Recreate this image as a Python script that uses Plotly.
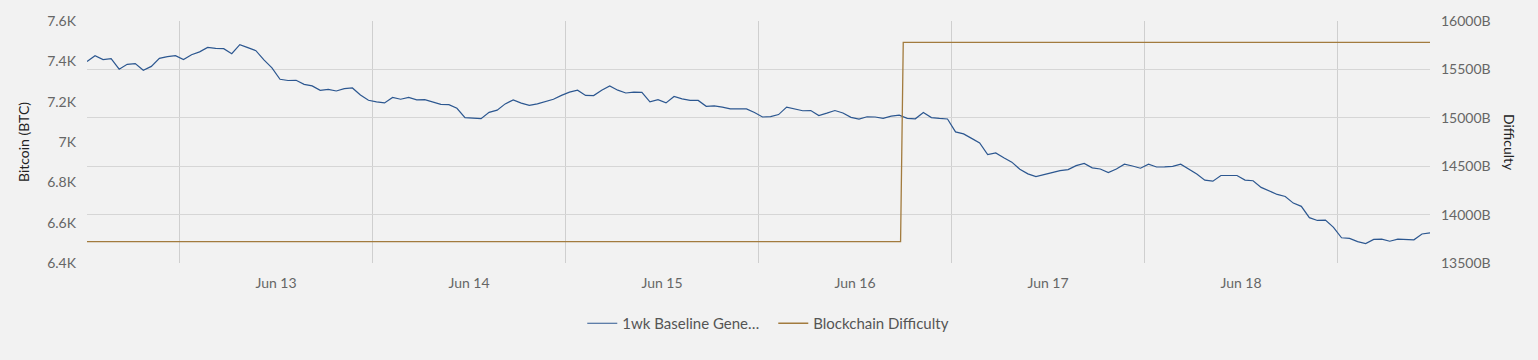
import pandas as pd
import plotly.graph_objects as go

# ---- data ----
price_start = "2018-06-12 12:30"
price_values = [
    7399, 7428, 7409, 7413, 7361, 7385, 7389, 7356, 7375, 7415,
    7423, 7428, 7409, 7433, 7447, 7469, 7464, 7463, 7438, 7483,
    7468, 7453, 7407, 7368, 7311, 7305, 7306, 7286, 7278, 7256,
    7261, 7253, 7265, 7268, 7233, 7207, 7199, 7194, 7221, 7212,
    7221, 7209, 7210, 7200, 7187, 7185, 7167, 7121, 7119, 7116,
    7147, 7158, 7189, 7209, 7193, 7182, 7189, 7201, 7212, 7231,
    7247, 7257, 7231, 7230, 7257, 7278, 7257, 7243, 7247, 7246,
    7199, 7210, 7194, 7226, 7214, 7206, 7206, 7177, 7179, 7173,
    7164, 7164, 7164, 7146, 7124, 7126, 7136, 7173, 7163, 7155,
    7156, 7131, 7143, 7156, 7144, 7122, 7114, 7125, 7124, 7117,
    7128, 7133, 7117, 7115, 7146, 7121, 7117, 7114, 7050, 7040,
    7018, 6995, 6937, 6946, 6922, 6900, 6865, 6842, 6828, 6837,
    6849, 6858, 6863, 6883, 6894, 6872, 6866, 6848, 6866, 6890,
    6881, 6870, 6890, 6876, 6877, 6879, 6890, 6866, 6841, 6811,
    6806, 6834, 6834, 6834, 6811, 6808, 6775, 6758, 6740, 6730,
    6697, 6681, 6625, 6611, 6613, 6577, 6525, 6522, 6506, 6496,
    6517, 6518, 6508, 6518, 6516, 6515, 6544, 6549,
]
price_times = pd.date_range(price_start, periods=len(price_values), freq="h")

diff_times = ["2018-06-12 12:30", "2018-06-16 17:40", "2018-06-16 18:00", "2018-06-19 11:30"]
diff_values = [13721, 13721, 15779, 15779]  # in billions

series_names = ["1wk Baseline Gene\u2026", "Blockchain Difficulty"]
left_tickvals = [6400, 6600, 6800, 7000, 7200, 7400, 7600]
left_ticktext = ["6.4K", "6.6K", "6.8K", "7K", "7.2K", "7.4K", "7.6K"]
right_tickvals = [13500, 14000, 14500, 15000, 15500, 16000]
right_ticktext = ["13500B", "14000B", "14500B", "15000B", "15500B", "16000B"]

# ---- figure ----
BLUE = "#2c5790"
BROWN = "#a27b3e"
BG = "#f2f2f2"
FONT = "Source Sans Pro, Lato, Noto Sans, sans-serif"

fig = go.Figure()
fig.add_trace(go.Scatter(x=price_times, y=price_values, mode="lines",
                         name=series_names[0], line=dict(color=BLUE, width=1.2),
                         yaxis="y"))
fig.add_trace(go.Scatter(x=pd.to_datetime(diff_times), y=diff_values, mode="lines",
                         name=series_names[1], line=dict(color=BROWN, width=1.3),
                         yaxis="y2"))

fig.update_layout(
    width=1538, height=360,
    paper_bgcolor=BG, plot_bgcolor=BG,
    margin=dict(l=87, r=108, t=14, b=97),
    font=dict(family=FONT, size=14, color="#666666"),
    showlegend=True,
    legend=dict(orientation="h", x=0.511, xanchor="center", y=-0.25, yanchor="middle",
                entrywidth=146, entrywidthmode="pixels",
                font=dict(size=15, color="#555555"), bgcolor="rgba(0,0,0,0)"),
    xaxis=dict(
        type="date",
        range=[price_times[0], price_times[-1]],
        dtick=86400000, tick0="2018-06-13",
        tickformat="%b %-d", ticklabelmode="period",
        showgrid=True, gridcolor="#cfcfcf", gridwidth=1,
        zeroline=False, showline=False, ticks="",
        ticklabelstandoff=10,
        tickfont=dict(size=14, color="#666666"),
    ),
    yaxis=dict(
        range=[6400, 7600], tickvals=left_tickvals, ticktext=left_ticktext,
        showgrid=False, zeroline=False, showline=False, ticks="",
        ticklabelstandoff=10,
        title=dict(text="Bitcoin (BTC)", font=dict(size=14, color="#222222"), standoff=14),
        tickfont=dict(size=14, color="#666666"),
    ),
    yaxis2=dict(
        range=[13500, 16000], tickvals=right_tickvals, ticktext=right_ticktext,
        overlaying="y", side="right",
        showgrid=True, gridcolor="#d6d6d6", gridwidth=1,
        zeroline=False, showline=False, ticks="",
        ticklabelstandoff=10,
        tickfont=dict(size=14, color="#666666"),
    ),
    annotations=[dict(text="Difficulty", xref="paper", yref="paper", x=1.0, y=0.5,
                      xanchor="center", yanchor="middle",
                      xshift=80, showarrow=False, textangle=90,
                      font=dict(size=14, color="#222222", family=FONT))],
)

fig.write_html("out.html", config={"displayModeBar": False},
               post_script="document.body.style.margin='0';document.body.style.background='#f2f2f2';")
